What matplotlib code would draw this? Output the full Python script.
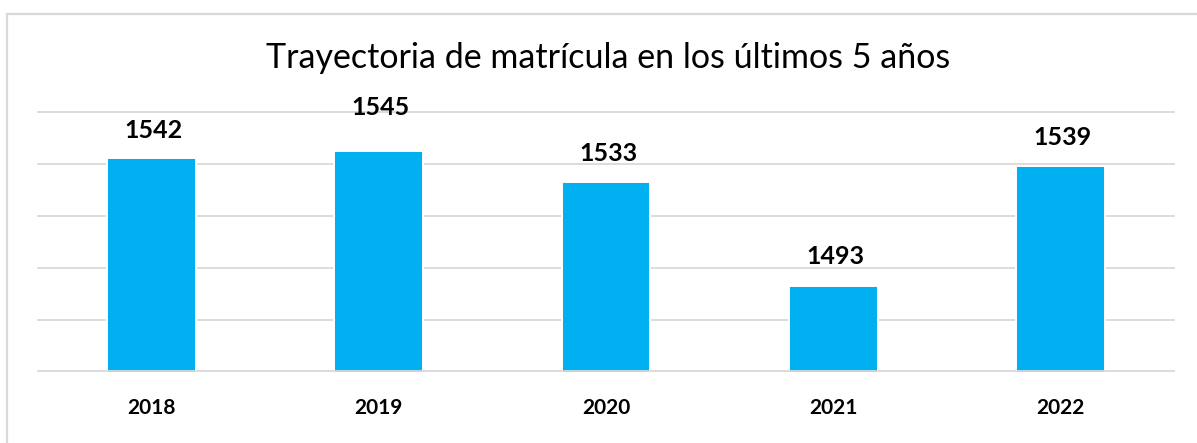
import matplotlib
matplotlib.use("Agg")
import matplotlib.pyplot as plt
from matplotlib.lines import Line2D

# ---- data ----
years = ["2018", "2019", "2020", "2021", "2022"]
matricula = [1542, 1545, 1533, 1493, 1539]
title = "Trayectoria de matrícula en los últimos 5 años"
y_min, y_max, y_step = 1460, 1560, 20

# ---- style ----
W, H, DPI = 1197, 443, 100
bar_color = "#00B0F0"
grid_color = "#D9D9D9"
label_offsets_px = [28, 43, 28, 29, 29]   # label centre above bar top

fig = plt.figure(figsize=(W / DPI, H / DPI), dpi=DPI)
fig.patch.set_facecolor("white")

# chart frame (top and left borders visible)
fig.add_artist(Line2D([6.5 / W, 1.0], [1 - 13.5 / H, 1 - 13.5 / H],
                      transform=fig.transFigure, color=grid_color, lw=1.6))
fig.add_artist(Line2D([6.5 / W, 6.5 / W], [0, 1 - 13.5 / H],
                      transform=fig.transFigure, color=grid_color, lw=1.6))

left, right = 38 / W, 1174 / W
bottom, top = 1 - 371.5 / H, 1 - 111.7 / H
ax = fig.add_axes([left, bottom, right - left, top - bottom])

x = list(range(len(years)))
ax.bar(x, matricula, width=0.39, bottom=0, color=bar_color,
       edgecolor="white", linewidth=1.4, zorder=2)
ax.set_xlim(-0.5, len(years) - 0.5)
ax.set_ylim(y_min, y_max)

ticks = list(range(y_min, y_max + 1, y_step))
for t in ticks:
    ax.axhline(t, color=grid_color, lw=1.3, zorder=1 if t != y_min else 3,
               clip_on=False)

for s in ax.spines.values():
    s.set_visible(False)
ax.set_yticks([])
ax.set_xticks(x)
ax.set_xticklabels(years, fontsize=15, fontweight="bold", family="Lato")
ax.tick_params(axis="x", length=0, pad=19)

for xi, v, off in zip(x, matricula, label_offsets_px):
    ax.annotate(str(v), (xi, v), xytext=(2, off), textcoords="offset pixels",
                ha="center", va="center", fontsize=18, fontweight="bold",
                family="Lato", annotation_clip=False, zorder=4)

fig.text(608.5 / W, 1 - 58 / H, title, ha="center", va="center",
         fontsize=24.5, family="Lato", fontweight="normal", color="black")

fig.savefig("out.png", dpi=DPI, facecolor="white")
